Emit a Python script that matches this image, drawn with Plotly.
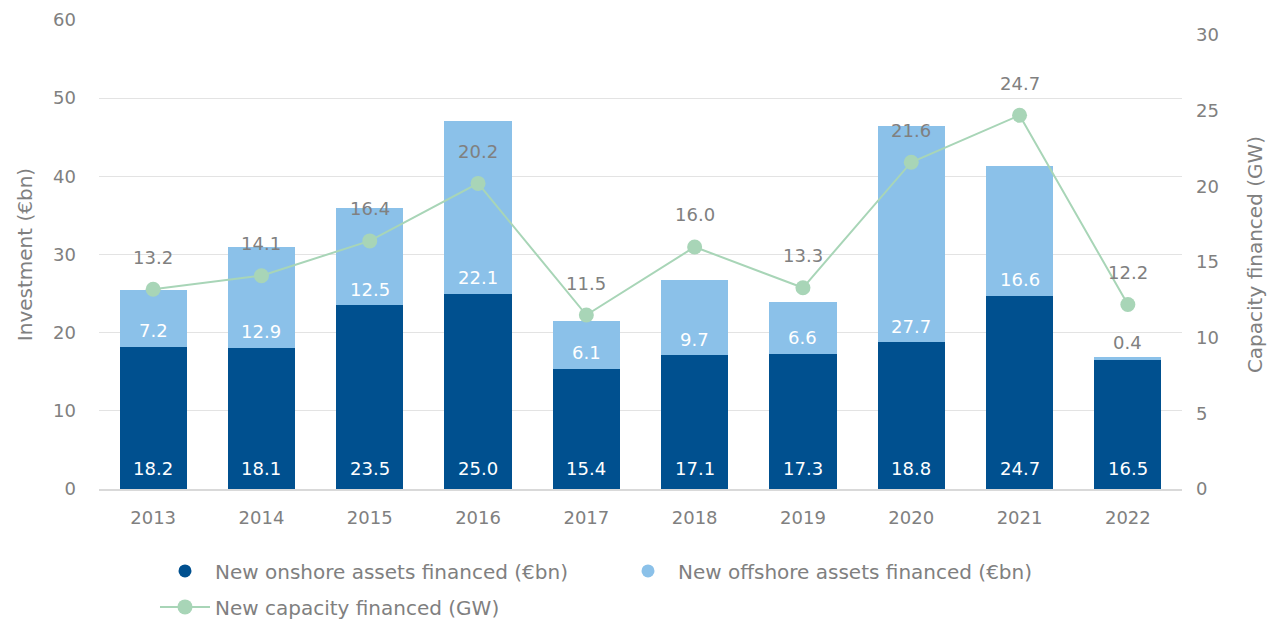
import plotly.graph_objects as go

years = ["2013", "2014", "2015", "2016", "2017", "2018", "2019", "2020", "2021", "2022"]
onshore = [18.2, 18.1, 23.5, 25.0, 15.4, 17.1, 17.3, 18.8, 24.7, 16.5]
offshore = [7.2, 12.9, 12.5, 22.1, 6.1, 9.7, 6.6, 27.7, 16.6, 0.4]
capacity = [13.2, 14.1, 16.4, 20.2, 11.5, 16.0, 13.3, 21.6, 24.7, 12.2]

left_ticks = [0, 10, 20, 30, 40, 50, 60]
right_ticks = [0, 5, 10, 15, 20, 25, 30]

DARK = "#00508f"
LIGHT = "#8bc1e9"
GREEN = "#a8d5b7"
GRAY = "#808080"
FONT = "DejaVu Sans"
FS = 18
FL = 20

fig = go.Figure()

fig.add_trace(go.Bar(
    x=years, y=onshore, name="New onshore assets financed (€bn)",
    marker=dict(color=DARK, line=dict(width=0)),
    showlegend=False, width=0.62, hoverinfo="x+y",
))
fig.add_trace(go.Bar(
    x=years, y=offshore, name="New offshore assets financed (€bn)",
    marker=dict(color=LIGHT, line=dict(width=0)),
    showlegend=False, width=0.62, hoverinfo="x+y",
))

# legend-only entries (circle markers like the reference)
fig.add_trace(go.Scatter(x=[years[0]], y=[None], mode="markers",
                         marker=dict(symbol="circle", size=13, color=DARK),
                         name="New onshore assets financed (€bn)", legend="legend"))
fig.add_trace(go.Scatter(x=[years[0]], y=[None], mode="markers",
                         marker=dict(symbol="circle", size=13, color=LIGHT),
                         name="New offshore assets financed (€bn)", legend="legend"))

fig.add_trace(go.Scatter(
    x=years, y=capacity, yaxis="y2", mode="lines+markers",
    name="New capacity financed (GW)",
    line=dict(color=GREEN, width=2),
    marker=dict(color=GREEN, size=15),
    cliponaxis=False, legend="legend2",
))

# bar value labels
for i, (on, off) in enumerate(zip(onshore, offshore)):
    fig.add_annotation(x=i, y=0, xref="x", yref="y", text=f"{on:.1f}", showarrow=False,
                       yshift=21, font=dict(color="white", size=FS, family=FONT))
    if off >= 2:
        fig.add_annotation(x=i, y=on, xref="x", yref="y", text=f"{off:.1f}",
                           showarrow=False, yshift=16,
                           font=dict(color="white", size=FS, family=FONT))
    else:
        fig.add_annotation(x=i, y=on + off, xref="x", yref="y", text=f"{off:.1f}",
                           showarrow=False, yshift=14,
                           font=dict(color=GRAY, size=FS, family=FONT))

# capacity labels
for i, v in enumerate(capacity):
    fig.add_annotation(x=i, y=v, xref="x", yref="y2", text=f"{v:.1f}", showarrow=False,
                       yshift=32, font=dict(color=GRAY, size=FS, family=FONT))

# the page body adds an 8px offset, so the figure is 8px smaller than the window
fig.update_layout(
    width=1275, height=612,
    margin=dict(l=91, r=101, t=12, b=131),
    paper_bgcolor="white", plot_bgcolor="white",
    barmode="stack",
    font=dict(family=FONT, color=GRAY, size=FS),
    xaxis=dict(type="category", range=[-0.5, 9.5], showgrid=False, showline=True,
               linecolor="#d9d9d9", linewidth=2, ticks="", automargin=False,
               ticklabelstandoff=11,
               tickfont=dict(size=FS, color=GRAY)),
    yaxis=dict(range=[0, 60], tickvals=left_ticks, showgrid=True,
               gridcolor="#e3e3e3", gridwidth=1, zeroline=False,
               ticklabelstandoff=22, automargin=False,
               tickfont=dict(size=FS, color=GRAY),
               title=dict(text="Investment (€bn)", standoff=15,
                          font=dict(size=FL, color=GRAY))),
    yaxis2=dict(range=[0, 31], tickvals=right_ticks, overlaying="y", side="right",
                showgrid=False, zeroline=False, ticklabelstandoff=13, automargin=False,
                tickfont=dict(size=FS, color=GRAY),
                title=dict(text="Capacity financed (GW)", standoff=30,
                           font=dict(size=FL, color=GRAY))),
    legend=dict(orientation="h", x=0.0517, xanchor="left",
                y=0.112, yref="container", yanchor="top",
                entrywidth=398, itemwidth=50, traceorder="normal",
                font=dict(size=FL, color=GRAY, family=FONT)),
    legend2=dict(orientation="h", x=0.0517, xanchor="left",
                 y=0.0533, yref="container", yanchor="top",
                 itemwidth=50, font=dict(size=FL, color=GRAY, family=FONT)),
)

fig.write_html("out.html")
